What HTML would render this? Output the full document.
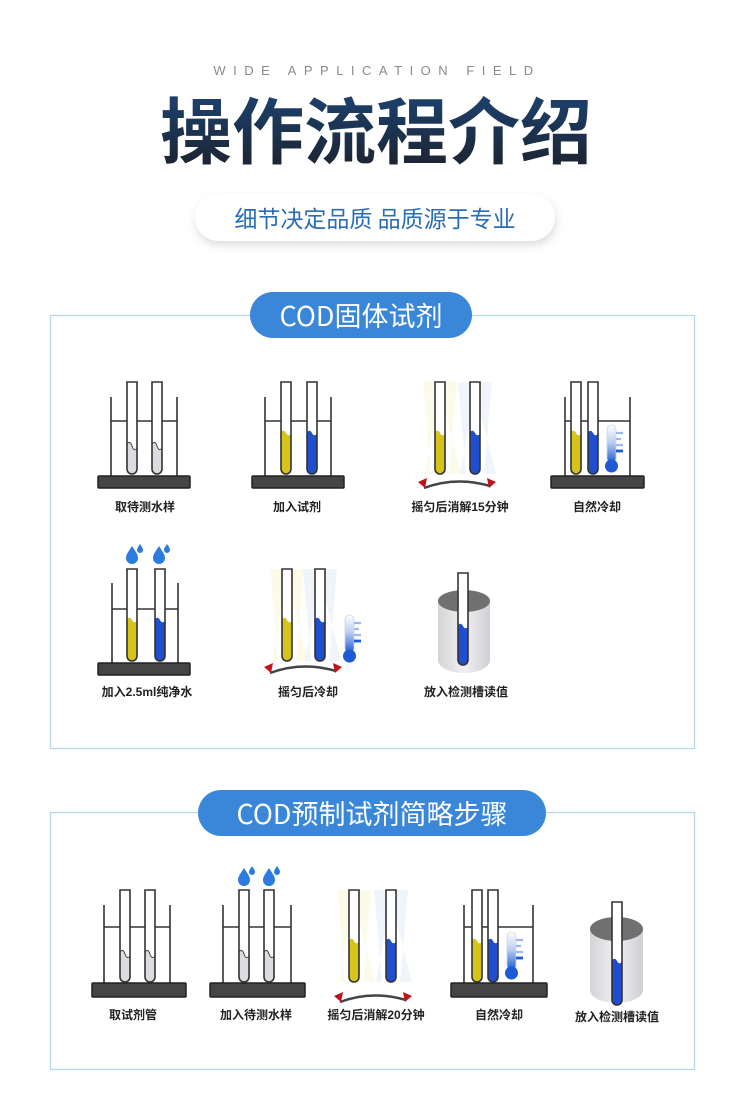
<!DOCTYPE html>
<html><head><meta charset="utf-8"><style>
html,body{margin:0;padding:0;background:#fff;}
svg{display:block;}
text{font-family:"Liberation Sans","Noto Sans CJK SC",sans-serif;}
text.cjk{font-family:"Noto Sans CJK SC",sans-serif;}
</style></head><body>
<svg width="750" height="1113" viewBox="0 0 750 1113" xmlns="http://www.w3.org/2000/svg">
<defs>
<linearGradient id="tg" x1="0" y1="0" x2="0" y2="1"><stop offset="0" stop-color="#1d4a80"/><stop offset="1" stop-color="#1c1f26"/></linearGradient>
<linearGradient id="th" x1="0" y1="0" x2="0" y2="1"><stop offset="0" stop-color="#fff"/><stop offset="0.45" stop-color="#bcd0f0"/><stop offset="1" stop-color="#1f5ad6"/></linearGradient>
<linearGradient id="cy" x1="0" y1="0" x2="1" y2="0"><stop offset="0" stop-color="#d4d4d8"/><stop offset="0.5" stop-color="#f0f0f2"/><stop offset="1" stop-color="#d0d0d4"/></linearGradient>
<filter id="sh" x="-20%" y="-50%" width="140%" height="200%"><feGaussianBlur stdDeviation="5"/></filter>
<g id="outline"><path d="M0,0 H10 V87 a5,5 0 0 1 -10,0 Z" fill="none" stroke="#333" stroke-width="1.6"/></g>
<g id="tG"><path d="M0,0 H10 V87 a5,5 0 0 1 -10,0 Z" fill="#fff"/><path d="M0,62 q3,-4 5,2 t5,2 V87 a5,5 0 0 1 -10,0 Z" fill="#dcdce0"/><path d="M0,62 q3,-4 5,2 t5,2" fill="none" stroke="#444" stroke-width="1"/><use href="#outline"/></g>
<g id="tY"><path d="M0,0 H10 V87 a5,5 0 0 1 -10,0 Z" fill="#fff"/><path d="M0,50 q3,-3 5,1 t5,1 V87 a5,5 0 0 1 -10,0 Z" fill="#d6c41a"/><use href="#outline"/></g>
<g id="tB"><path d="M0,0 H10 V87 a5,5 0 0 1 -10,0 Z" fill="#fff"/><path d="M0,50 q3,-3 5,1 t5,1 V87 a5,5 0 0 1 -10,0 Z" fill="#1f4fd0"/><use href="#outline"/></g>
<g id="thermo"><rect x="2" y="0" width="9" height="38" rx="4.5" fill="url(#th)" stroke="#c8d6ee" stroke-width="0.8"/><circle cx="6.5" cy="41" r="6.5" fill="#1f5ad6"/><path d="M11,8 h7 M11,14 h5 M11,20 h7 M11,26 h5" stroke="#9fb8e8" stroke-width="2.2"/><path d="M11,26 h7" stroke="#1f5ad6" stroke-width="2.8"/></g>
<g id="drop"><path d="M0,-10 C3,-5 6,-2 6,2 a6,6 0 0 1 -12,0 C-6,-2 -3,-5 0,-10Z" fill="#2b7be0"/><path d="M8,-12 C9.5,-9.5 11,-8 11,-6 a3,3 0 0 1 -6,0 C5,-8 6.5,-9.5 8,-12Z" fill="#2b7be0"/></g>
<g id="arrow"><path d="M6,10 Q38,-2 72,8" fill="none" stroke="#444" stroke-width="2.5"/><path d="M0,4 L9,0 L7,10 Z" fill="#c0141a"/><path d="M78,4 L69,0 L71,10 Z" fill="#c0141a"/></g>
<g id="fanY"><path d="M-12,0 L22,0 L14,92 L-4,92Z M-10,92 L26,92 L5,10Z" fill="#f7f2c8" opacity="0.4"/></g>
<g id="fanB"><path d="M-12,0 L22,0 L14,92 L-4,92Z M-10,92 L26,92 L5,10Z" fill="#dde6f6" opacity="0.45"/></g>
</defs>

<text x="377" y="75" text-anchor="middle" font-size="13" fill="#8a8a8a" letter-spacing="7.5">WIDE APPLICATION FIELD</text>
<text class="cjk" x="376" y="158" text-anchor="middle" font-size="72" font-weight="bold" fill="url(#tg)">操作流程介绍</text>
<rect x="197" y="200" width="358" height="44" rx="22" fill="#888" opacity="0.35" filter="url(#sh)"/>
<rect x="195" y="194" width="360" height="47" rx="23.5" fill="#fff"/>
<text class="cjk" x="375" y="227" text-anchor="middle" font-size="23" fill="#2a6db5">细节决定品质 品质源于专业</text>

<rect x="50.5" y="315.5" width="644" height="433" fill="none" stroke="#b5d8ec" stroke-width="1.3"/>
<rect x="250" y="292" width="222" height="46" rx="23" fill="#3a86d9"/>
<text class="cjk" x="361" y="326" text-anchor="middle" font-size="27" fill="#fff">COD固体试剂</text>

<g stroke="#333" stroke-width="1.6" fill="none">
<path d="M111,397 V476 M177,397 V476 M111,421 H177"/>
<path d="M265,397 V476 M331,397 V476 M265,421 H331"/>
<path d="M565,397 V476 M630,397 V476 M565,421 H630"/>
<path d="M112,583 V663 M178,583 V663 M112,609 H178"/>
<path d="M104,905 V983 M170,905 V983 M104,927 H170"/>
<path d="M223,905 V983 M291,905 V983 M223,927 H291"/>
<path d="M464,905 V983 M533,905 V983 M464,927 H533"/>
</g>
<g fill="#454545" stroke="#222" stroke-width="1.5">
<rect x="98" y="476" width="92" height="12" rx="1"/>
<rect x="252" y="476" width="92" height="12" rx="1"/>
<rect x="551" y="476" width="93" height="12" rx="1"/>
<rect x="98" y="663" width="92" height="12" rx="1"/>
<rect x="92" y="983" width="94" height="14" rx="1"/>
<rect x="210" y="983" width="95" height="14" rx="1"/>
<rect x="451" y="983" width="96" height="14" rx="1"/>
</g>

<use href="#tG" x="127" y="382"/><use href="#tG" x="152" y="382"/>
<use href="#tY" x="281" y="382"/><use href="#tB" x="307" y="382"/>
<use href="#fanY" x="435" y="382"/><use href="#fanB" x="470" y="382"/>
<use href="#tY" x="435" y="382"/><use href="#tB" x="470" y="382"/>
<use href="#arrow" x="418" y="478"/>
<use href="#tY" x="571" y="382"/><use href="#tB" x="588" y="382"/>
<use href="#thermo" x="605" y="425"/>

<use href="#drop" x="132" y="556"/><use href="#drop" x="159" y="556"/>
<use href="#tY" x="127" y="569"/><use href="#tB" x="155" y="569"/>
<use href="#fanY" x="282" y="569"/><use href="#fanB" x="315" y="569"/>
<use href="#tY" x="282" y="569"/><use href="#tB" x="315" y="569"/>
<use href="#thermo" x="343" y="615"/>
<use href="#arrow" x="264" y="663"/>
<path d="M438,601 V660 a26,13 0 0 0 52,0 V601Z" fill="url(#cy)"/>
<ellipse cx="464" cy="601" rx="26" ry="11" fill="#707070"/>
<g><path d="M458,573 H468 V660 a5,5 0 0 1 -10,0Z" fill="#fff"/><path d="M458,625 q3,-3 5,1 t5,1 V660 a5,5 0 0 1 -10,0Z" fill="#1f4fd0"/><path d="M458,573 H468 V660 a5,5 0 0 1 -10,0Z" fill="none" stroke="#333" stroke-width="1.6"/></g>

<g font-size="12" font-weight="bold" fill="#222" text-anchor="middle">
<text x="145" y="511">取待测水样</text>
<text x="297" y="511">加入试剂</text>
<text x="460" y="511">摇匀后消解15分钟</text>
<text x="597" y="511">自然冷却</text>
<text x="147" y="696">加入2.5ml纯净水</text>
<text x="308" y="696">摇匀后冷却</text>
<text x="466" y="696">放入检测槽读值</text>
</g>

<rect x="50.5" y="812.5" width="644" height="257" fill="none" stroke="#b5d8ec" stroke-width="1.3"/>
<rect x="198" y="790" width="348" height="46" rx="23" fill="#3a86d9"/>
<text class="cjk" x="372" y="824" text-anchor="middle" font-size="27" fill="#fff">COD预制试剂简略步骤</text>

<use href="#tG" x="120" y="890"/><use href="#tG" x="145" y="890"/>
<use href="#drop" x="244" y="878"/><use href="#drop" x="269" y="878"/>
<use href="#tG" x="239" y="890"/><use href="#tG" x="264" y="890"/>
<use href="#fanY" x="349" y="890"/><use href="#fanB" x="386" y="890"/>
<use href="#tY" x="349" y="890"/><use href="#tB" x="386" y="890"/>
<use href="#arrow" x="334" y="992"/>
<use href="#tY" x="472" y="890"/><use href="#tB" x="488" y="890"/>
<use href="#thermo" x="505" y="932"/>
<path d="M590,929 V990 a26.5,13 0 0 0 53,0 V929Z" fill="url(#cy)"/>
<ellipse cx="616.5" cy="929" rx="26.5" ry="12" fill="#707070"/>
<g><path d="M612,902 H622 V1000 a5,5 0 0 1 -10,0Z" fill="#fff"/><path d="M612,960 q3,-3 5,1 t5,1 V1000 a5,5 0 0 1 -10,0Z" fill="#1f4fd0"/><path d="M612,902 H622 V1000 a5,5 0 0 1 -10,0Z" fill="none" stroke="#333" stroke-width="1.6"/></g>

<g font-size="12" font-weight="bold" fill="#222" text-anchor="middle">
<text x="133" y="1019">取试剂管</text>
<text x="256" y="1019">加入待测水样</text>
<text x="376" y="1019">摇匀后消解20分钟</text>
<text x="499" y="1019">自然冷却</text>
<text x="617" y="1021">放入检测槽读值</text>
</g>
</svg>
</body></html>
